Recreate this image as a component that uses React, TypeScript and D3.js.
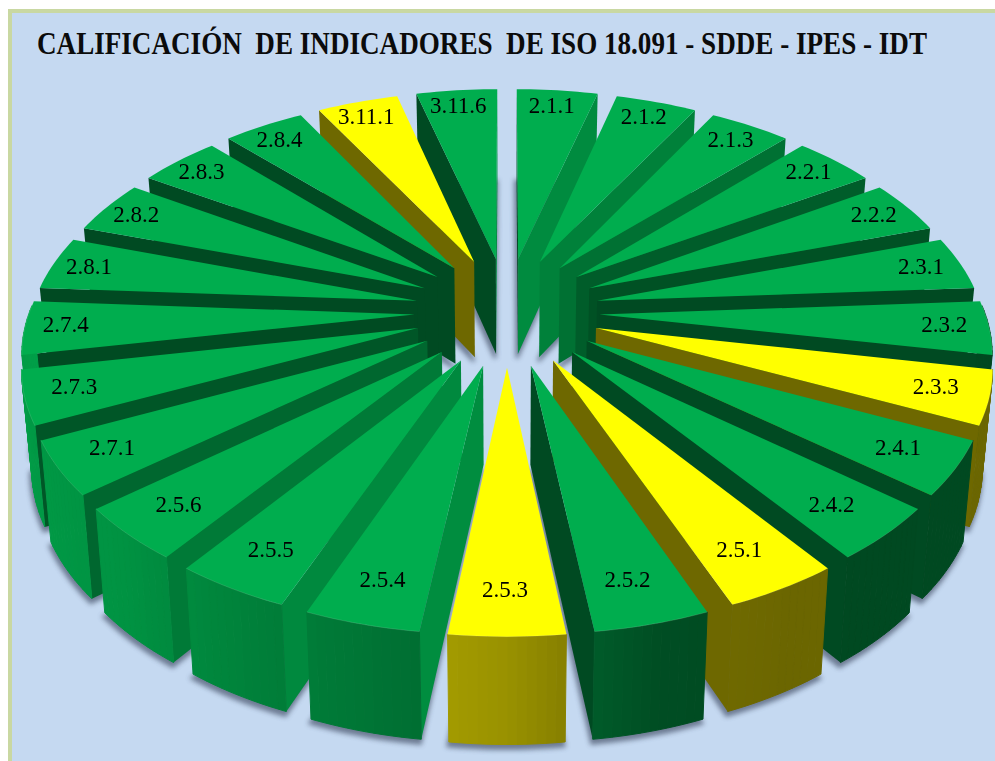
import React from "react";
import * as d3 from "d3";

const titulo = "CALIFICACIÓN  DE INDICADORES  DE ISO 18.091 - SDDE - IPES - IDT";

const indicadores = [
  "2.1.1", "2.1.2", "2.1.3", "2.2.1", "2.2.2", "2.3.1", "2.3.2", "2.3.3", "2.4.1",
  "2.4.2", "2.5.1", "2.5.2", "2.5.3", "2.5.4", "2.5.5", "2.5.6", "2.7.1", "2.7.3",
  "2.7.4", "2.8.1", "2.8.2", "2.8.3", "2.8.4", "3.11.1", "3.11.6",
];
const pesos = [1, 1, 1, 1, 1, 1, 1, 1, 1, 1, 1, 1, 1, 1, 1, 1, 1, 1, 1, 1, 1, 1, 1, 1, 1];
const enAmarillo = ["2.3.3", "2.5.1", "2.5.3", "3.11.1"];

const VERDE = "#00AD4E";
const AMARILLO = "#FFFF00";
const AMARILLO_PARED = "#FFF200";

const width = 995;
const height = 761;

// proyeccion de la torta 3D: plano (u, v) en unidades de radio
const xScale = d3.scaleLinear().domain([-1, 1]).range([507 - 385, 507 + 385]);
const yScale = d3.scaleLinear().domain([-1, 1]).range([311 + 209.6, 311 - 209.6]);
const persp = 0.15;
const explosionU = 0.24;
const explosionV = 0.26;

type P = [number, number];

const top3d = (u: number, v: number): P => {
  const k = 1 + persp * v;
  return [xScale(u / k), yScale(v / k)];
};
const bottom3d = (u: number, v: number): P => {
  const [x, y] = top3d(u, v);
  return [507 + (x - 507) * 0.979, y + 97 / (1 + 0.08 * v)];
};

// sombreado segun hacia donde mira la cara (grados, 0 = fondo, 180 = frente)
const sideShade = d3.scaleLinear().domain([90, 110, 130, 150, 170, 360]).range([0.82, 0.8, 0.68, 0.52, 0.43, 0.43]).clamp(true);
const rimShade = d3.scaleLinear().domain([90, 150, 165, 180, 195, 225, 270]).range([0.42, 0.42, 0.45, 0.6, 0.68, 0.85, 0.92]).clamp(true);
const shade = (base: string, f: number) => {
  const c = d3.rgb(base);
  return d3.rgb(c.r * f, c.g * f, c.b * f).formatHex();
};

const line = d3.line<P>().x(d => d[0]).y(d => d[1]);
const poly = (pts: P[]) => line(pts) + "Z";
const deg = (rad: number) => ((rad * 180) / Math.PI + 360) % 360;

const arcs = d3.pie<number>().sort(null)(pesos);

const slices = arcs.map((d, i) => {
  const mid = (d.startAngle + d.endAngle) / 2;
  const ou = explosionU * Math.sin(mid);
  const ov = explosionV * Math.cos(mid);
  const at = (a: number, r: number): [number, number] => [ou + r * Math.sin(a), ov + r * Math.cos(a)];
  const angles = d3.range(0, 13).map(k => d.startAngle + ((d.endAngle - d.startAngle) * k) / 12);
  return { name: indicadores[i], mid, ou, ov, at, angles, start: d.startAngle, end: d.endAngle };
});

const dibujo = [...slices].sort((a, b) => Math.cos(b.mid) - Math.cos(a.mid));

const wallVisible = (apex: P, corner: P, inner: P) => {
  const ex = corner[0] - apex[0];
  const ey = corner[1] - apex[1];
  const side = ex * (inner[1] - apex[1]) - ey * (inner[0] - apex[0]);
  return side * ex < 0;
};

export default function App() {
  return (
    <svg width={width} height={height} style={{ position: "absolute", left: 0, top: 0, display: "block" }}>
      <defs>
        <filter id="sombra" x="-20%" y="-20%" width="140%" height="140%">
          <feGaussianBlur stdDeviation="2.6" />
        </filter>
      </defs>
      <rect x={0} y={0} width={width} height={height} fill="#fff" />
      <rect x={10} y={11} width={width} height={height} fill="#C5D9F1" stroke="#C9D8A2" strokeWidth={4} />
      <text
        x={37}
        y={54}
        fontFamily="Liberation Serif, serif"
        fontWeight="bold"
        fontSize={31}
        textLength={890}
        lengthAdjust="spacingAndGlyphs"
        fill="#0b0b0b"
        style={{ whiteSpace: "pre" }}
      >
        {titulo}
      </text>

      <g filter="url(#sombra)" opacity={0.7}>
        {slices.map(s => {
          const pts: P[] = [bottom3d(...s.at(0, 0)), ...s.angles.map(a => bottom3d(...s.at(a, 1)))];
          return <path key={s.name} d={poly(pts)} transform="translate(-1,4)" fill="#46526a" stroke="#46526a" strokeWidth={3} />;
        })}
      </g>

      {dibujo.map(s => {
        const amarillo = enAmarillo.includes(s.name);
        const base = amarillo ? AMARILLO : VERDE;
        const pared = amarillo ? AMARILLO_PARED : VERDE;
        const apex = top3d(...s.at(0, 0));
        const apexB = bottom3d(...s.at(0, 0));
        const rim = s.angles.map(a => top3d(...s.at(a, 1)));
        const rimB = s.angles.map(a => bottom3d(...s.at(a, 1)));
        const inner = rim[6];
        const lados = [
          { corner: rim[0], cornerB: rimB[0], normal: deg(s.start) - 90 },
          { corner: rim[12], cornerB: rimB[12], normal: deg(s.end) + 90 },
        ];
        // las etiquetas del frente quedan algo mas cerca del centro
        const c = Math.cos(s.mid);
        const ru = 0.895 + 0.065 * Math.min(0, c);
        const rv = 0.87 + 0.015 * c;
        const label = top3d(s.ou + ru * Math.sin(s.mid), s.ov + rv * c);
        return (
          <g key={s.name}>
            {lados
              .filter(l => wallVisible(apex, l.corner, inner))
              .map((l, i) => (
                <path
                  key={i}
                  d={poly([apex, l.corner, l.cornerB, apexB])}
                  fill={shade(pared, sideShade((l.normal + 360) % 360))}
                />
              ))}
            {s.angles.slice(0, -1).map((a, k) => {
              const am = a + (s.angles[k + 1] - a) / 2;
              if (Math.cos(am) > 0.05) return null;
              const col = shade(pared, rimShade(deg(am)));
              return (
                <path key={k} d={poly([rim[k], rim[k + 1], rimB[k + 1], rimB[k]])} fill={col} stroke={col} strokeWidth={1} />
              );
            })}
            <path d={poly([apex, ...rim])} fill={base} />
            {c < 0 && (
              <path d={line(rim) ?? ""} fill="none" stroke="#ffffff" strokeOpacity={0.12} strokeWidth={1} />
            )}
            <text
              x={label[0] - 2}
              y={label[1]}
              dy="0.25em"
              textAnchor="middle"
              fontFamily="Liberation Serif, serif"
              fontSize={23}
              fill="#000"
            >
              {s.name}
            </text>
          </g>
        );
      })}
    </svg>
  );
}
